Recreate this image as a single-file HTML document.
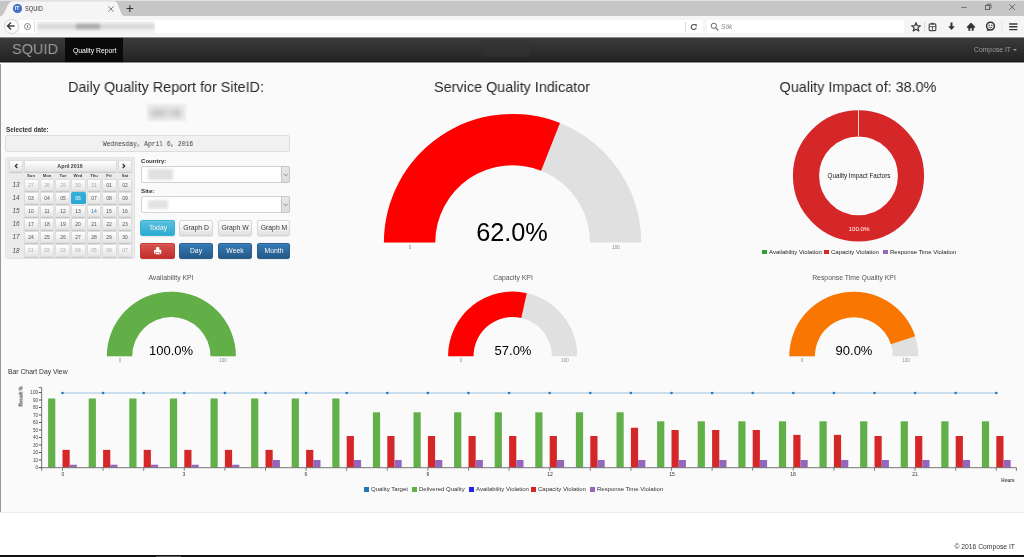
<!DOCTYPE html><html><head><meta charset="utf-8"><style>
html,body{margin:0;padding:0;width:1024px;height:557px;overflow:hidden;background:#fff}
.t{position:absolute;will-change:transform;white-space:nowrap;line-height:1;font-family:'Liberation Sans',sans-serif}
.b{position:absolute}
</style></head><body>
<div class="b" style="left:0px;top:0px;width:1024px;height:16px;background:#c6c6c6"></div>
<div class="b" style="left:0px;top:0px;width:1024px;height:1.2px;background:#e3e3e3"></div>
<svg class="b" style="left:0;top:0" width="140" height="17"><path d="M0,16 C6,16 6,1.2 13,1.2 L114,1.2 C120,1.2 119,16 125,16 Z" fill="#f5f5f5"/></svg>
<div class="b" style="left:0px;top:16px;width:1024px;height:21.5px;background:#f5f5f5"></div>
<div class="b" style="left:13px;top:4px;width:8.5px;height:8.5px;border-radius:50%;background:#3d6fc4"></div>
<div class="t" style="left:-282.75px;width:600px;text-align:center;top:6.37px;font-size:5px;color:#fff;font-weight:bold;font-family:'Liberation Sans';">IT</div>
<div class="t" style="left:24.70px;top:6.39px;font-size:7.1px;color:#333;font-weight:normal;font-family:'Liberation Sans';transform:scaleX(0.8);transform-origin:0 0">SQUID</div>
<svg class="b" style="left:106px;top:4px" width="30" height="10"><path d="M2.3,2.3 L7.7,7.7 M7.7,2.3 L2.3,7.7" stroke="#666" stroke-width="0.8"/><path d="M20.5,4.5 L27.2,4.5 M23.85,1.2 L23.85,7.9" stroke="#333" stroke-width="1.1"/></svg>
<div class="b" style="left:3.5px;top:18.5px;width:15px;height:15px;border-radius:50%;background:#fff;border:1px solid #cfcfcf;box-sizing:border-box"></div>
<svg class="b" style="left:6px;top:21px" width="10" height="10"><path d="M1.5,5 L8.5,5 M5,1.5 L1.5,5 L5,8.5" stroke="#444" stroke-width="1.5" fill="none"/></svg>
<div class="b" style="left:19px;top:19.8px;width:684px;height:13.6px;background:#fff"></div>
<div class="b" style="left:23.5px;top:22.5px;width:7.5px;height:7.5px;border-radius:50%;border:0.8px solid #888;box-sizing:border-box"></div>
<div class="b" style="left:27px;top:24.5px;width:0.8px;height:3.5px;background:#888"></div>
<div class="b" style="left:34px;top:21px;width:0.8px;height:11px;background:#e0e0e0"></div>
<div class="b" style="left:37px;top:20.5px;width:118px;height:12px;background:#f3f3f3;filter:blur(0.6px)"></div>
<div class="b" style="left:38px;top:24px;width:116px;height:5px;background:#d6d6d6;filter:blur(1.4px)"></div>
<div class="b" style="left:76px;top:23.8px;width:24px;height:5.5px;background:#aaa;filter:blur(1.4px)"></div>
<div class="b" style="left:685px;top:21.5px;width:0.8px;height:10px;background:#ddd"></div>
<svg class="b" style="left:689px;top:22px" width="10" height="10"><path d="M6.6,3.3 A2.5,2.5 0 1 0 7.2,5.6" stroke="#555" stroke-width="1.2" fill="none"/><path d="M5.3,2.2 L7.8,2.2 L7.8,4.7 Z" fill="#555"/></svg>
<div class="b" style="left:706.5px;top:19.8px;width:197.5px;height:13.6px;background:#fff"></div>
<svg class="b" style="left:710px;top:22px" width="10" height="10"><circle cx="3.8" cy="3.8" r="2.6" stroke="#666" stroke-width="1" fill="none"/><path d="M5.8,5.8 L8.3,8.3" stroke="#666" stroke-width="1.2"/></svg>
<div class="t" style="left:720.80px;top:23.81px;font-size:6.6px;color:#8a8a8a;font-weight:normal;font-family:'Liberation Sans';font-style:italic">Sök</div>
<svg class="b" style="left:905px;top:18px" width="119" height="19">
<path d="M11,4.6 L12.2,7.7 L15.4,7.9 L12.9,9.9 L13.8,13 L11,11.2 L8.2,13 L9.1,9.9 L6.6,7.9 L9.8,7.7 Z" stroke="#3a3a3a" stroke-width="1.2" stroke-linejoin="round" fill="none"/>
<rect x="19.3" y="4" width="0.8" height="10" fill="#d0d0d0"/>
<rect x="24.2" y="5.9" width="6.6" height="6.8" rx="1" stroke="#4a4a4a" stroke-width="1.2" fill="none"/><rect x="26.2" y="4.8" width="2.6" height="1.8" fill="#4a4a4a"/><path d="M24.2,8.6 H30.8 M27.5,8.6 V12.7" stroke="#4a4a4a" stroke-width="0.9"/>
<path d="M46.5,4.5 V9" stroke="#333" stroke-width="2"/><path d="M43.2,8.3 L49.8,8.3 L46.5,12 Z" fill="#333"/>
<path d="M62.4,9.2 L66,5.4 L69.6,9.2 Z" fill="#333" stroke="#333" stroke-width="1.2" stroke-linejoin="round"/><rect x="63.3" y="9" width="5.4" height="3.7" fill="#333"/><rect x="65.2" y="10.3" width="1.6" height="2.4" fill="#f5f5f5"/>
<circle cx="85.5" cy="8.1" r="3.9" stroke="#333" stroke-width="1.5" fill="none"/><path d="M82.6,11 L81.6,13.3 L84.6,11.9 Z" fill="#333"/><circle cx="84.2" cy="7.2" r="0.75" fill="#333"/><circle cx="86.8" cy="7.2" r="0.75" fill="#333"/><path d="M83.6,8.9 Q85.5,10.8 87.4,8.9" stroke="#333" stroke-width="0.9" fill="none"/>
<rect x="96.5" y="2.5" width="0.8" height="13" fill="#e0e0e0"/>
<path d="M104.2,6 H112.4 M104.2,8.8 H112.4 M104.2,11.6 H112.4" stroke="#3a3a3a" stroke-width="1.4"/>
</svg>
<svg class="b" style="left:955px;top:0" width="69" height="16">
<path d="M6.3,7.4 H11.5" stroke="#555" stroke-width="0.8"/>
<rect x="30.5" y="5.4" width="4.2" height="4.2" stroke="#555" stroke-width="0.8" fill="none"/><path d="M32,5.4 V4.2 H36 V8.2 H34.7" stroke="#555" stroke-width="0.8" fill="none"/>
<path d="M54.3,4.3 L60,10 M60,4.3 L54.3,10" stroke="#555" stroke-width="0.85"/>
</svg>
<div class="b" style="left:0px;top:36px;width:1024px;height:1px;background:#fafafa"></div>
<div class="b" style="left:0px;top:37px;width:1024px;height:26px;background:linear-gradient(to bottom,#8a8a8a 0,#8a8a8a 1px,#3b3b3b 1px,#232323 24px,#1a1a1a 24px,#1a1a1a 25px,#8a8a8a 25px)"></div>
<div class="b" style="left:65px;top:37px;width:58px;height:26px;background:linear-gradient(to bottom,#808080 0,#808080 1px,#0a0a0a 1px,#0a0a0a 25px,#808080 25px)"></div>
<div class="t" style="left:12.30px;top:41.45px;font-size:15.3px;color:#9d9d9d;font-weight:normal;font-family:'Liberation Sans';transform:scaleX(0.95);transform-origin:0 0">SQUID</div>
<div class="t" style="left:72.50px;top:48.44px;font-size:6.8px;color:#fff;font-weight:normal;font-family:'Liberation Sans';">Quality Report</div>
<div class="t" style="left:974.00px;top:46.54px;font-size:6.8px;color:#9d9d9d;font-weight:normal;font-family:'Liberation Sans';">Compose IT</div>
<div class="b" style="left:1013.2px;top:48.9px;border-left:2px solid transparent;border-right:2px solid transparent;border-top:2px solid #9d9d9d"></div>
<div class="b" style="left:0px;top:63px;width:1024px;height:449.5px;background:#fafafa"></div>
<div class="b" style="left:0px;top:63px;width:1024px;height:1px;background:#fff"></div>
<div class="b" style="left:0px;top:64px;width:1.2px;height:447.7px;background:#999"></div>
<div class="b" style="left:0px;top:512.2px;width:1024px;height:0.8px;background:#ececec"></div>
<div class="b" style="left:0px;top:513px;width:1024px;height:42.2px;background:#fff"></div>
<div class="b" style="left:0px;top:555.2px;width:1024px;height:1.8px;background:#111"></div>
<div class="b" style="left:156px;top:555.6px;width:25px;height:1.4px;background:#555"></div>
<div class="b" style="left:484px;top:40px;width:46px;height:17px;background:#333;filter:blur(1.2px);opacity:.6"></div>
<div class="t" style="left:415.20px;width:600px;text-align:right;top:543.78px;font-size:6.75px;color:#333;font-weight:normal;font-family:'Liberation Sans';">© 2016 Compose IT</div>
<div class="t" style="left:-134.00px;width:600px;text-align:center;top:79.00px;font-size:15px;color:#2a2a2a;font-weight:normal;font-family:'Liberation Sans';transform:scaleX(0.96)">Daily Quality Report for SiteID:</div>
<div class="b" style="left:146.5px;top:104px;width:39px;height:17px;background:#ebebeb;filter:blur(1px)"></div>
<div class="b" style="left:151px;top:108.5px;width:15px;height:8px;background:#c9c9c9;filter:blur(2px)"></div>
<div class="b" style="left:165px;top:109px;width:10px;height:7px;background:#d6d6d6;filter:blur(2px)"></div>
<div class="b" style="left:173px;top:108.5px;width:8px;height:8px;background:#c9c9c9;filter:blur(2px)"></div>
<div class="t" style="left:5.70px;top:126.57px;font-size:6.3px;color:#333;font-weight:bold;font-family:'Liberation Sans';">Selected date:</div>
<div class="b" style="left:5.3px;top:135.4px;width:284.7px;height:16.3px;background:#f1f1f1;border:0.6px solid #ddd;border-radius:2px;box-sizing:border-box"></div>
<div class="t" style="left:-152.40px;width:600px;text-align:center;top:140.77px;font-size:7px;color:#383838;font-weight:normal;font-family:'Liberation Mono';transform:scaleX(0.893)">Wednesday, April 6, 2016</div>
<div class="b" style="left:5.2px;top:156.5px;width:130.3px;height:102.5px;background:#ebebeb;border:0.6px solid #e3e3e3;border-radius:2px;box-sizing:border-box"></div>
<div class="b" style="left:9px;top:159.9px;width:14.4px;height:12.1px;background:linear-gradient(#fff,#e6e6e6);border-radius:1.5px;box-shadow:0 0.5px 1px rgba(0,0,0,.15);border:0.5px solid #ddd;box-sizing:border-box"></div>
<div class="b" style="left:24px;top:159.9px;width:92.9px;height:12.1px;background:linear-gradient(#fff,#e6e6e6);border-radius:1.5px;box-shadow:0 0.5px 1px rgba(0,0,0,.15);border:0.5px solid #ddd;box-sizing:border-box"></div>
<div class="b" style="left:118px;top:159.9px;width:14.4px;height:12.1px;background:linear-gradient(#fff,#e6e6e6);border-radius:1.5px;box-shadow:0 0.5px 1px rgba(0,0,0,.15);border:0.5px solid #ddd;box-sizing:border-box"></div>
<svg class="b" style="left:13px;top:162px" width="120" height="8"><path d="M4.3,2 L2.3,4 L4.3,6" stroke="#333" stroke-width="1.3" fill="none"/><path d="M109.7,2 L111.7,4 L109.7,6" stroke="#333" stroke-width="1.3" fill="none"/></svg>
<div class="t" style="left:-229.60px;width:600px;text-align:center;top:163.71px;font-size:5.3px;color:#444;font-weight:bold;font-family:'Liberation Sans';">April 2016</div>
<div class="t" style="left:-268.75px;width:600px;text-align:center;top:173.74px;font-size:4.2px;color:#444;font-weight:bold;font-family:'Liberation Sans';">Sun</div>
<div class="t" style="left:-253.05px;width:600px;text-align:center;top:173.74px;font-size:4.2px;color:#444;font-weight:bold;font-family:'Liberation Sans';">Mon</div>
<div class="t" style="left:-237.50px;width:600px;text-align:center;top:173.74px;font-size:4.2px;color:#444;font-weight:bold;font-family:'Liberation Sans';">Tue</div>
<div class="t" style="left:-221.70px;width:600px;text-align:center;top:173.74px;font-size:4.2px;color:#444;font-weight:bold;font-family:'Liberation Sans';">Wed</div>
<div class="t" style="left:-206.15px;width:600px;text-align:center;top:173.74px;font-size:4.2px;color:#444;font-weight:bold;font-family:'Liberation Sans';">Thu</div>
<div class="t" style="left:-190.65px;width:600px;text-align:center;top:173.74px;font-size:4.2px;color:#444;font-weight:bold;font-family:'Liberation Sans';">Fri</div>
<div class="t" style="left:-174.90px;width:600px;text-align:center;top:173.74px;font-size:4.2px;color:#444;font-weight:bold;font-family:'Liberation Sans';">Sat</div>
<div class="t" style="left:-283.70px;width:600px;text-align:center;top:182.08px;font-size:6.4px;color:#505050;font-weight:normal;font-family:'Liberation Sans';font-style:italic">13</div>
<div class="b" style="left:23.75px;top:178.9px;width:15px;height:12.2px;background:linear-gradient(#fff,#e6e6e6);border-radius:1.5px;box-shadow:0 0.5px 1px rgba(0,0,0,.15);border:0.5px solid #ddd;box-sizing:border-box"></div>
<div class="t" style="left:-268.75px;width:600px;text-align:center;top:182.87px;font-size:5px;color:#aaa;font-weight:normal;font-family:'Liberation Sans';">27</div>
<div class="b" style="left:39.9px;top:178.9px;width:14.1px;height:12.2px;background:linear-gradient(#fff,#e6e6e6);border-radius:1.5px;box-shadow:0 0.5px 1px rgba(0,0,0,.15);border:0.5px solid #ddd;box-sizing:border-box"></div>
<div class="t" style="left:-253.05px;width:600px;text-align:center;top:182.87px;font-size:5px;color:#aaa;font-weight:normal;font-family:'Liberation Sans';">28</div>
<div class="b" style="left:55.2px;top:178.9px;width:14.6px;height:12.2px;background:linear-gradient(#fff,#e6e6e6);border-radius:1.5px;box-shadow:0 0.5px 1px rgba(0,0,0,.15);border:0.5px solid #ddd;box-sizing:border-box"></div>
<div class="t" style="left:-237.50px;width:600px;text-align:center;top:182.87px;font-size:5px;color:#aaa;font-weight:normal;font-family:'Liberation Sans';">29</div>
<div class="b" style="left:70.6px;top:178.9px;width:15.4px;height:12.2px;background:linear-gradient(#fff,#e6e6e6);border-radius:1.5px;box-shadow:0 0.5px 1px rgba(0,0,0,.15);border:0.5px solid #ddd;box-sizing:border-box"></div>
<div class="t" style="left:-221.70px;width:600px;text-align:center;top:182.87px;font-size:5px;color:#aaa;font-weight:normal;font-family:'Liberation Sans';">30</div>
<div class="b" style="left:86.8px;top:178.9px;width:14.1px;height:12.2px;background:linear-gradient(#fff,#e6e6e6);border-radius:1.5px;box-shadow:0 0.5px 1px rgba(0,0,0,.15);border:0.5px solid #ddd;box-sizing:border-box"></div>
<div class="t" style="left:-206.15px;width:600px;text-align:center;top:182.87px;font-size:5px;color:#aaa;font-weight:normal;font-family:'Liberation Sans';">31</div>
<div class="b" style="left:102px;top:178.9px;width:14.7px;height:12.2px;background:linear-gradient(#fff,#e6e6e6);border-radius:1.5px;box-shadow:0 0.5px 1px rgba(0,0,0,.15);border:0.5px solid #ddd;box-sizing:border-box"></div>
<div class="t" style="left:-190.65px;width:600px;text-align:center;top:182.87px;font-size:5px;color:#555;font-weight:normal;font-family:'Liberation Sans';">01</div>
<div class="b" style="left:117.9px;top:178.9px;width:14.4px;height:12.2px;background:linear-gradient(#fff,#e6e6e6);border-radius:1.5px;box-shadow:0 0.5px 1px rgba(0,0,0,.15);border:0.5px solid #ddd;box-sizing:border-box"></div>
<div class="t" style="left:-174.90px;width:600px;text-align:center;top:182.87px;font-size:5px;color:#555;font-weight:normal;font-family:'Liberation Sans';">02</div>
<div class="t" style="left:-283.70px;width:600px;text-align:center;top:195.18px;font-size:6.4px;color:#505050;font-weight:normal;font-family:'Liberation Sans';font-style:italic">14</div>
<div class="b" style="left:23.75px;top:192.0px;width:15px;height:12.2px;background:linear-gradient(#fff,#e6e6e6);border-radius:1.5px;box-shadow:0 0.5px 1px rgba(0,0,0,.15);border:0.5px solid #ddd;box-sizing:border-box"></div>
<div class="t" style="left:-268.75px;width:600px;text-align:center;top:195.97px;font-size:5px;color:#555;font-weight:normal;font-family:'Liberation Sans';">03</div>
<div class="b" style="left:39.9px;top:192.0px;width:14.1px;height:12.2px;background:linear-gradient(#fff,#e6e6e6);border-radius:1.5px;box-shadow:0 0.5px 1px rgba(0,0,0,.15);border:0.5px solid #ddd;box-sizing:border-box"></div>
<div class="t" style="left:-253.05px;width:600px;text-align:center;top:195.97px;font-size:5px;color:#555;font-weight:normal;font-family:'Liberation Sans';">04</div>
<div class="b" style="left:55.2px;top:192.0px;width:14.6px;height:12.2px;background:linear-gradient(#fff,#e6e6e6);border-radius:1.5px;box-shadow:0 0.5px 1px rgba(0,0,0,.15);border:0.5px solid #ddd;box-sizing:border-box"></div>
<div class="t" style="left:-237.50px;width:600px;text-align:center;top:195.97px;font-size:5px;color:#555;font-weight:normal;font-family:'Liberation Sans';">05</div>
<div class="b" style="left:70.6px;top:192.0px;width:15.4px;height:12.2px;background:linear-gradient(#36b0d8,#2aa6d0);border-radius:1.5px"></div>
<div class="t" style="left:-221.70px;width:600px;text-align:center;top:195.97px;font-size:5px;color:#fff;font-weight:normal;font-family:'Liberation Sans';">06</div>
<div class="b" style="left:86.8px;top:192.0px;width:14.1px;height:12.2px;background:linear-gradient(#fff,#e6e6e6);border-radius:1.5px;box-shadow:0 0.5px 1px rgba(0,0,0,.15);border:0.5px solid #ddd;box-sizing:border-box"></div>
<div class="t" style="left:-206.15px;width:600px;text-align:center;top:195.97px;font-size:5px;color:#555;font-weight:normal;font-family:'Liberation Sans';">07</div>
<div class="b" style="left:102px;top:192.0px;width:14.7px;height:12.2px;background:linear-gradient(#fff,#e6e6e6);border-radius:1.5px;box-shadow:0 0.5px 1px rgba(0,0,0,.15);border:0.5px solid #ddd;box-sizing:border-box"></div>
<div class="t" style="left:-190.65px;width:600px;text-align:center;top:195.97px;font-size:5px;color:#555;font-weight:normal;font-family:'Liberation Sans';">08</div>
<div class="b" style="left:117.9px;top:192.0px;width:14.4px;height:12.2px;background:linear-gradient(#fff,#e6e6e6);border-radius:1.5px;box-shadow:0 0.5px 1px rgba(0,0,0,.15);border:0.5px solid #ddd;box-sizing:border-box"></div>
<div class="t" style="left:-174.90px;width:600px;text-align:center;top:195.97px;font-size:5px;color:#555;font-weight:normal;font-family:'Liberation Sans';">09</div>
<div class="t" style="left:-283.70px;width:600px;text-align:center;top:208.28px;font-size:6.4px;color:#505050;font-weight:normal;font-family:'Liberation Sans';font-style:italic">15</div>
<div class="b" style="left:23.75px;top:205.1px;width:15px;height:12.2px;background:linear-gradient(#fff,#e6e6e6);border-radius:1.5px;box-shadow:0 0.5px 1px rgba(0,0,0,.15);border:0.5px solid #ddd;box-sizing:border-box"></div>
<div class="t" style="left:-268.75px;width:600px;text-align:center;top:209.07px;font-size:5px;color:#555;font-weight:normal;font-family:'Liberation Sans';">10</div>
<div class="b" style="left:39.9px;top:205.1px;width:14.1px;height:12.2px;background:linear-gradient(#fff,#e6e6e6);border-radius:1.5px;box-shadow:0 0.5px 1px rgba(0,0,0,.15);border:0.5px solid #ddd;box-sizing:border-box"></div>
<div class="t" style="left:-253.05px;width:600px;text-align:center;top:209.07px;font-size:5px;color:#555;font-weight:normal;font-family:'Liberation Sans';">11</div>
<div class="b" style="left:55.2px;top:205.1px;width:14.6px;height:12.2px;background:linear-gradient(#fff,#e6e6e6);border-radius:1.5px;box-shadow:0 0.5px 1px rgba(0,0,0,.15);border:0.5px solid #ddd;box-sizing:border-box"></div>
<div class="t" style="left:-237.50px;width:600px;text-align:center;top:209.07px;font-size:5px;color:#555;font-weight:normal;font-family:'Liberation Sans';">12</div>
<div class="b" style="left:70.6px;top:205.1px;width:15.4px;height:12.2px;background:linear-gradient(#fff,#e6e6e6);border-radius:1.5px;box-shadow:0 0.5px 1px rgba(0,0,0,.15);border:0.5px solid #ddd;box-sizing:border-box"></div>
<div class="t" style="left:-221.70px;width:600px;text-align:center;top:209.07px;font-size:5px;color:#555;font-weight:normal;font-family:'Liberation Sans';">13</div>
<div class="b" style="left:86.8px;top:205.1px;width:14.1px;height:12.2px;background:linear-gradient(#fff,#e6e6e6);border-radius:1.5px;box-shadow:0 0.5px 1px rgba(0,0,0,.15);border:0.5px solid #ddd;box-sizing:border-box"></div>
<div class="t" style="left:-206.15px;width:600px;text-align:center;top:209.07px;font-size:5px;color:#337ab7;font-weight:normal;font-family:'Liberation Sans';">14</div>
<div class="b" style="left:102px;top:205.1px;width:14.7px;height:12.2px;background:linear-gradient(#fff,#e6e6e6);border-radius:1.5px;box-shadow:0 0.5px 1px rgba(0,0,0,.15);border:0.5px solid #ddd;box-sizing:border-box"></div>
<div class="t" style="left:-190.65px;width:600px;text-align:center;top:209.07px;font-size:5px;color:#555;font-weight:normal;font-family:'Liberation Sans';">15</div>
<div class="b" style="left:117.9px;top:205.1px;width:14.4px;height:12.2px;background:linear-gradient(#fff,#e6e6e6);border-radius:1.5px;box-shadow:0 0.5px 1px rgba(0,0,0,.15);border:0.5px solid #ddd;box-sizing:border-box"></div>
<div class="t" style="left:-174.90px;width:600px;text-align:center;top:209.07px;font-size:5px;color:#555;font-weight:normal;font-family:'Liberation Sans';">16</div>
<div class="t" style="left:-283.70px;width:600px;text-align:center;top:221.38px;font-size:6.4px;color:#505050;font-weight:normal;font-family:'Liberation Sans';font-style:italic">16</div>
<div class="b" style="left:23.75px;top:218.2px;width:15px;height:12.2px;background:linear-gradient(#fff,#e6e6e6);border-radius:1.5px;box-shadow:0 0.5px 1px rgba(0,0,0,.15);border:0.5px solid #ddd;box-sizing:border-box"></div>
<div class="t" style="left:-268.75px;width:600px;text-align:center;top:222.17px;font-size:5px;color:#555;font-weight:normal;font-family:'Liberation Sans';">17</div>
<div class="b" style="left:39.9px;top:218.2px;width:14.1px;height:12.2px;background:linear-gradient(#fff,#e6e6e6);border-radius:1.5px;box-shadow:0 0.5px 1px rgba(0,0,0,.15);border:0.5px solid #ddd;box-sizing:border-box"></div>
<div class="t" style="left:-253.05px;width:600px;text-align:center;top:222.17px;font-size:5px;color:#555;font-weight:normal;font-family:'Liberation Sans';">18</div>
<div class="b" style="left:55.2px;top:218.2px;width:14.6px;height:12.2px;background:linear-gradient(#fff,#e6e6e6);border-radius:1.5px;box-shadow:0 0.5px 1px rgba(0,0,0,.15);border:0.5px solid #ddd;box-sizing:border-box"></div>
<div class="t" style="left:-237.50px;width:600px;text-align:center;top:222.17px;font-size:5px;color:#555;font-weight:normal;font-family:'Liberation Sans';">19</div>
<div class="b" style="left:70.6px;top:218.2px;width:15.4px;height:12.2px;background:linear-gradient(#fff,#e6e6e6);border-radius:1.5px;box-shadow:0 0.5px 1px rgba(0,0,0,.15);border:0.5px solid #ddd;box-sizing:border-box"></div>
<div class="t" style="left:-221.70px;width:600px;text-align:center;top:222.17px;font-size:5px;color:#555;font-weight:normal;font-family:'Liberation Sans';">20</div>
<div class="b" style="left:86.8px;top:218.2px;width:14.1px;height:12.2px;background:linear-gradient(#fff,#e6e6e6);border-radius:1.5px;box-shadow:0 0.5px 1px rgba(0,0,0,.15);border:0.5px solid #ddd;box-sizing:border-box"></div>
<div class="t" style="left:-206.15px;width:600px;text-align:center;top:222.17px;font-size:5px;color:#555;font-weight:normal;font-family:'Liberation Sans';">21</div>
<div class="b" style="left:102px;top:218.2px;width:14.7px;height:12.2px;background:linear-gradient(#fff,#e6e6e6);border-radius:1.5px;box-shadow:0 0.5px 1px rgba(0,0,0,.15);border:0.5px solid #ddd;box-sizing:border-box"></div>
<div class="t" style="left:-190.65px;width:600px;text-align:center;top:222.17px;font-size:5px;color:#555;font-weight:normal;font-family:'Liberation Sans';">22</div>
<div class="b" style="left:117.9px;top:218.2px;width:14.4px;height:12.2px;background:linear-gradient(#fff,#e6e6e6);border-radius:1.5px;box-shadow:0 0.5px 1px rgba(0,0,0,.15);border:0.5px solid #ddd;box-sizing:border-box"></div>
<div class="t" style="left:-174.90px;width:600px;text-align:center;top:222.17px;font-size:5px;color:#555;font-weight:normal;font-family:'Liberation Sans';">23</div>
<div class="t" style="left:-283.70px;width:600px;text-align:center;top:234.48px;font-size:6.4px;color:#505050;font-weight:normal;font-family:'Liberation Sans';font-style:italic">17</div>
<div class="b" style="left:23.75px;top:231.3px;width:15px;height:12.2px;background:linear-gradient(#fff,#e6e6e6);border-radius:1.5px;box-shadow:0 0.5px 1px rgba(0,0,0,.15);border:0.5px solid #ddd;box-sizing:border-box"></div>
<div class="t" style="left:-268.75px;width:600px;text-align:center;top:235.27px;font-size:5px;color:#555;font-weight:normal;font-family:'Liberation Sans';">24</div>
<div class="b" style="left:39.9px;top:231.3px;width:14.1px;height:12.2px;background:linear-gradient(#fff,#e6e6e6);border-radius:1.5px;box-shadow:0 0.5px 1px rgba(0,0,0,.15);border:0.5px solid #ddd;box-sizing:border-box"></div>
<div class="t" style="left:-253.05px;width:600px;text-align:center;top:235.27px;font-size:5px;color:#555;font-weight:normal;font-family:'Liberation Sans';">25</div>
<div class="b" style="left:55.2px;top:231.3px;width:14.6px;height:12.2px;background:linear-gradient(#fff,#e6e6e6);border-radius:1.5px;box-shadow:0 0.5px 1px rgba(0,0,0,.15);border:0.5px solid #ddd;box-sizing:border-box"></div>
<div class="t" style="left:-237.50px;width:600px;text-align:center;top:235.27px;font-size:5px;color:#555;font-weight:normal;font-family:'Liberation Sans';">26</div>
<div class="b" style="left:70.6px;top:231.3px;width:15.4px;height:12.2px;background:linear-gradient(#fff,#e6e6e6);border-radius:1.5px;box-shadow:0 0.5px 1px rgba(0,0,0,.15);border:0.5px solid #ddd;box-sizing:border-box"></div>
<div class="t" style="left:-221.70px;width:600px;text-align:center;top:235.27px;font-size:5px;color:#555;font-weight:normal;font-family:'Liberation Sans';">27</div>
<div class="b" style="left:86.8px;top:231.3px;width:14.1px;height:12.2px;background:linear-gradient(#fff,#e6e6e6);border-radius:1.5px;box-shadow:0 0.5px 1px rgba(0,0,0,.15);border:0.5px solid #ddd;box-sizing:border-box"></div>
<div class="t" style="left:-206.15px;width:600px;text-align:center;top:235.27px;font-size:5px;color:#555;font-weight:normal;font-family:'Liberation Sans';">28</div>
<div class="b" style="left:102px;top:231.3px;width:14.7px;height:12.2px;background:linear-gradient(#fff,#e6e6e6);border-radius:1.5px;box-shadow:0 0.5px 1px rgba(0,0,0,.15);border:0.5px solid #ddd;box-sizing:border-box"></div>
<div class="t" style="left:-190.65px;width:600px;text-align:center;top:235.27px;font-size:5px;color:#555;font-weight:normal;font-family:'Liberation Sans';">29</div>
<div class="b" style="left:117.9px;top:231.3px;width:14.4px;height:12.2px;background:linear-gradient(#fff,#e6e6e6);border-radius:1.5px;box-shadow:0 0.5px 1px rgba(0,0,0,.15);border:0.5px solid #ddd;box-sizing:border-box"></div>
<div class="t" style="left:-174.90px;width:600px;text-align:center;top:235.27px;font-size:5px;color:#555;font-weight:normal;font-family:'Liberation Sans';">30</div>
<div class="t" style="left:-283.70px;width:600px;text-align:center;top:247.58px;font-size:6.4px;color:#505050;font-weight:normal;font-family:'Liberation Sans';font-style:italic">18</div>
<div class="b" style="left:23.75px;top:244.4px;width:15px;height:12.2px;background:linear-gradient(#fff,#e6e6e6);border-radius:1.5px;box-shadow:0 0.5px 1px rgba(0,0,0,.15);border:0.5px solid #ddd;box-sizing:border-box"></div>
<div class="t" style="left:-268.75px;width:600px;text-align:center;top:248.37px;font-size:5px;color:#aaa;font-weight:normal;font-family:'Liberation Sans';">01</div>
<div class="b" style="left:39.9px;top:244.4px;width:14.1px;height:12.2px;background:linear-gradient(#fff,#e6e6e6);border-radius:1.5px;box-shadow:0 0.5px 1px rgba(0,0,0,.15);border:0.5px solid #ddd;box-sizing:border-box"></div>
<div class="t" style="left:-253.05px;width:600px;text-align:center;top:248.37px;font-size:5px;color:#aaa;font-weight:normal;font-family:'Liberation Sans';">02</div>
<div class="b" style="left:55.2px;top:244.4px;width:14.6px;height:12.2px;background:linear-gradient(#fff,#e6e6e6);border-radius:1.5px;box-shadow:0 0.5px 1px rgba(0,0,0,.15);border:0.5px solid #ddd;box-sizing:border-box"></div>
<div class="t" style="left:-237.50px;width:600px;text-align:center;top:248.37px;font-size:5px;color:#aaa;font-weight:normal;font-family:'Liberation Sans';">03</div>
<div class="b" style="left:70.6px;top:244.4px;width:15.4px;height:12.2px;background:linear-gradient(#fff,#e6e6e6);border-radius:1.5px;box-shadow:0 0.5px 1px rgba(0,0,0,.15);border:0.5px solid #ddd;box-sizing:border-box"></div>
<div class="t" style="left:-221.70px;width:600px;text-align:center;top:248.37px;font-size:5px;color:#aaa;font-weight:normal;font-family:'Liberation Sans';">04</div>
<div class="b" style="left:86.8px;top:244.4px;width:14.1px;height:12.2px;background:linear-gradient(#fff,#e6e6e6);border-radius:1.5px;box-shadow:0 0.5px 1px rgba(0,0,0,.15);border:0.5px solid #ddd;box-sizing:border-box"></div>
<div class="t" style="left:-206.15px;width:600px;text-align:center;top:248.37px;font-size:5px;color:#aaa;font-weight:normal;font-family:'Liberation Sans';">05</div>
<div class="b" style="left:102px;top:244.4px;width:14.7px;height:12.2px;background:linear-gradient(#fff,#e6e6e6);border-radius:1.5px;box-shadow:0 0.5px 1px rgba(0,0,0,.15);border:0.5px solid #ddd;box-sizing:border-box"></div>
<div class="t" style="left:-190.65px;width:600px;text-align:center;top:248.37px;font-size:5px;color:#aaa;font-weight:normal;font-family:'Liberation Sans';">06</div>
<div class="b" style="left:117.9px;top:244.4px;width:14.4px;height:12.2px;background:linear-gradient(#fff,#e6e6e6);border-radius:1.5px;box-shadow:0 0.5px 1px rgba(0,0,0,.15);border:0.5px solid #ddd;box-sizing:border-box"></div>
<div class="t" style="left:-174.90px;width:600px;text-align:center;top:248.37px;font-size:5px;color:#aaa;font-weight:normal;font-family:'Liberation Sans';">07</div>
<div class="t" style="left:140.60px;top:158.44px;font-size:6.1px;color:#333;font-weight:bold;font-family:'Liberation Sans';">Country:</div>
<div class="b" style="left:140.5px;top:166.3px;width:149.1px;height:16.8px;background:#fff;border:0.6px solid #d3d3d3;border-radius:2px;box-sizing:border-box"></div>
<div class="b" style="left:281px;top:166.3px;width:8.6px;height:16.8px;background:linear-gradient(#e8e8e8,#dcdcdc);border:0.6px solid #c6c6c6;border-radius:0 2px 2px 0;box-sizing:border-box"></div>
<div class="b" style="left:147.5px;top:169px;width:25px;height:10.5px;background:#e0e0e0;filter:blur(1.5px)"></div>
<div class="t" style="left:140.80px;top:187.95px;font-size:6.2px;color:#333;font-weight:bold;font-family:'Liberation Sans';">Site:</div>
<div class="b" style="left:140.5px;top:196.3px;width:149.1px;height:16.8px;background:#fff;border:0.6px solid #d3d3d3;border-radius:2px;box-sizing:border-box"></div>
<div class="b" style="left:281px;top:196.3px;width:8.6px;height:16.8px;background:linear-gradient(#e8e8e8,#dcdcdc);border:0.6px solid #c6c6c6;border-radius:0 2px 2px 0;box-sizing:border-box"></div>
<div class="b" style="left:148px;top:199.5px;width:20px;height:9.5px;background:#e2e2e2;filter:blur(1.5px)"></div>
<svg class="b" style="left:282px;top:170px" width="8" height="40"><path d="M1.8,3.8 L3.8,5.8 L5.8,3.8" stroke="#666" stroke-width="0.7" fill="none"/><path d="M1.8,33.8 L3.8,35.8 L5.8,33.8" stroke="#666" stroke-width="0.7" fill="none"/></svg>
<div class="b" style="left:140.2px;top:219.9px;width:34.6px;height:16.6px;background:linear-gradient(#5bc0de,#2aabd2);border:0.6px solid #3bb2d6;border-radius:2px;box-sizing:border-box;box-shadow:inset 0 0.5px 0 rgba(255,255,255,.15),0 0.5px 1px rgba(0,0,0,.075)"></div>
<div class="t" style="left:-142.50px;width:600px;text-align:center;top:225.24px;font-size:6.8px;color:#fff;font-weight:normal;font-family:'Liberation Sans';text-shadow:0 -0.5px 0 rgba(0,0,0,.2)">Today</div>
<div class="b" style="left:179.2px;top:219.9px;width:33.9px;height:16.6px;background:linear-gradient(#fff,#e0e0e0);border:0.6px solid #d6d6d6;border-radius:2px;box-sizing:border-box;box-shadow:inset 0 0.5px 0 rgba(255,255,255,.15),0 0.5px 1px rgba(0,0,0,.075)"></div>
<div class="t" style="left:-103.85px;width:600px;text-align:center;top:225.24px;font-size:6.8px;color:#333;font-weight:normal;font-family:'Liberation Sans';text-shadow:0 0.5px 0 #fff">Graph D</div>
<div class="b" style="left:218.1px;top:219.9px;width:34px;height:16.6px;background:linear-gradient(#fff,#e0e0e0);border:0.6px solid #d6d6d6;border-radius:2px;box-sizing:border-box;box-shadow:inset 0 0.5px 0 rgba(255,255,255,.15),0 0.5px 1px rgba(0,0,0,.075)"></div>
<div class="t" style="left:-64.90px;width:600px;text-align:center;top:225.24px;font-size:6.8px;color:#333;font-weight:normal;font-family:'Liberation Sans';text-shadow:0 0.5px 0 #fff">Graph W</div>
<div class="b" style="left:256.6px;top:219.9px;width:33.9px;height:16.6px;background:linear-gradient(#fff,#e0e0e0);border:0.6px solid #d6d6d6;border-radius:2px;box-sizing:border-box;box-shadow:inset 0 0.5px 0 rgba(255,255,255,.15),0 0.5px 1px rgba(0,0,0,.075)"></div>
<div class="t" style="left:-26.45px;width:600px;text-align:center;top:225.24px;font-size:6.8px;color:#333;font-weight:normal;font-family:'Liberation Sans';text-shadow:0 0.5px 0 #fff">Graph M</div>
<div class="b" style="left:140.2px;top:243px;width:34.6px;height:16.4px;background:linear-gradient(#d9534f,#c12e2a);border:0.6px solid #c63a36;border-radius:2px;box-sizing:border-box;box-shadow:inset 0 0.5px 0 rgba(255,255,255,.15),0 0.5px 1px rgba(0,0,0,.075)"></div>
<div class="b" style="left:179.2px;top:243px;width:33.9px;height:16.4px;background:linear-gradient(#337ab7,#265a88);border:0.6px solid #2a5f90;border-radius:2px;box-sizing:border-box;box-shadow:inset 0 0.5px 0 rgba(255,255,255,.15),0 0.5px 1px rgba(0,0,0,.075)"></div>
<div class="t" style="left:-103.85px;width:600px;text-align:center;top:248.34px;font-size:6.8px;color:#fff;font-weight:normal;font-family:'Liberation Sans';text-shadow:0 -0.5px 0 rgba(0,0,0,.2)">Day</div>
<div class="b" style="left:218.1px;top:243px;width:34px;height:16.4px;background:linear-gradient(#337ab7,#265a88);border:0.6px solid #2a5f90;border-radius:2px;box-sizing:border-box;box-shadow:inset 0 0.5px 0 rgba(255,255,255,.15),0 0.5px 1px rgba(0,0,0,.075)"></div>
<div class="t" style="left:-64.90px;width:600px;text-align:center;top:248.34px;font-size:6.8px;color:#fff;font-weight:normal;font-family:'Liberation Sans';text-shadow:0 -0.5px 0 rgba(0,0,0,.2)">Week</div>
<div class="b" style="left:256.6px;top:243px;width:33.9px;height:16.4px;background:linear-gradient(#337ab7,#265a88);border:0.6px solid #2a5f90;border-radius:2px;box-sizing:border-box;box-shadow:inset 0 0.5px 0 rgba(255,255,255,.15),0 0.5px 1px rgba(0,0,0,.075)"></div>
<div class="t" style="left:-26.45px;width:600px;text-align:center;top:248.34px;font-size:6.8px;color:#fff;font-weight:normal;font-family:'Liberation Sans';text-shadow:0 -0.5px 0 rgba(0,0,0,.2)">Month</div>
<svg class="b" style="left:153px;top:246.2px" width="10" height="10"><rect x="3.1" y="1.1" width="3.2" height="3" fill="#fff"/><rect x="1" y="3.8" width="7.3" height="4" rx="0.7" fill="#fff"/><rect x="2.7" y="6.4" width="4" height="2.2" fill="#fff" stroke="#cc3a36" stroke-width="0.5"/></svg>
<svg class="b" style="left:0;top:0" width="1024" height="557"><path d="M383.90,242.6 A128.7,128.7 0 0 1 641.30,242.6 L590.00,242.6 A77.4,77.4 0 0 0 435.20,242.6 Z" fill="#e0e0e0"/><path d="M383.90,242.6 A128.7,128.7 0 0 1 559.98,122.94 L541.09,170.64 A77.4,77.4 0 0 0 435.20,242.6 Z" fill="#ff0000"/></svg>
<div class="t" style="left:211.90px;width:600px;text-align:center;top:219.78px;font-size:25.3px;color:#010101;font-weight:normal;font-family:'Liberation Sans';">62.0%</div>
<div class="t" style="left:109.55px;width:600px;text-align:center;top:245.71px;font-size:4.6px;color:#8a8a8a;font-weight:normal;font-family:'Liberation Sans';">0</div>
<div class="t" style="left:315.65px;width:600px;text-align:center;top:245.71px;font-size:4.6px;color:#8a8a8a;font-weight:normal;font-family:'Liberation Sans';">100</div>
<div class="t" style="left:211.50px;width:600px;text-align:center;top:78.90px;font-size:15px;color:#2a2a2a;font-weight:normal;font-family:'Liberation Sans';transform:scaleX(0.96)">Service Quality Indicator</div>
<svg class="b" style="left:0;top:0" width="1024" height="557"><path d="M106.85,356.2 A64.5,64.5 0 0 1 235.85,356.2 L210.55,356.2 A39.2,39.2 0 0 0 132.15,356.2 Z" fill="#e0e0e0"/><path d="M106.85,356.2 A64.5,64.5 0 0 1 235.85,356.20 L210.55,356.20 A39.2,39.2 0 0 0 132.15,356.2 Z" fill="#62ae47"/></svg>
<div class="t" style="left:-128.65px;width:600px;text-align:center;top:344.09px;font-size:13px;color:#010101;font-weight:normal;font-family:'Liberation Sans';">100.0%</div>
<div class="t" style="left:-180.50px;width:600px;text-align:center;top:359.39px;font-size:4.5px;color:#8a8a8a;font-weight:normal;font-family:'Liberation Sans';">0</div>
<div class="t" style="left:-76.80px;width:600px;text-align:center;top:359.39px;font-size:4.5px;color:#8a8a8a;font-weight:normal;font-family:'Liberation Sans';">100</div>
<div class="t" style="left:-128.65px;width:600px;text-align:center;top:274.80px;font-size:6.85px;color:#555;font-weight:normal;font-family:'Liberation Sans';">Availability KPI</div>
<svg class="b" style="left:0;top:0" width="1024" height="557"><path d="M448.10,356.2 A64.6,64.6 0 0 1 577.30,356.2 L551.90,356.2 A39.2,39.2 0 0 0 473.50,356.2 Z" fill="#e0e0e0"/><path d="M448.10,356.2 A64.6,64.6 0 0 1 526.79,293.16 L521.25,317.94 A39.2,39.2 0 0 0 473.50,356.2 Z" fill="#ff0000"/></svg>
<div class="t" style="left:212.50px;width:600px;text-align:center;top:344.09px;font-size:13px;color:#010101;font-weight:normal;font-family:'Liberation Sans';">57.0%</div>
<div class="t" style="left:160.80px;width:600px;text-align:center;top:359.39px;font-size:4.5px;color:#8a8a8a;font-weight:normal;font-family:'Liberation Sans';">0</div>
<div class="t" style="left:264.60px;width:600px;text-align:center;top:359.39px;font-size:4.5px;color:#8a8a8a;font-weight:normal;font-family:'Liberation Sans';">100</div>
<div class="t" style="left:212.70px;width:600px;text-align:center;top:274.80px;font-size:6.85px;color:#555;font-weight:normal;font-family:'Liberation Sans';">Capacity KPI</div>
<svg class="b" style="left:0;top:0" width="1024" height="557"><path d="M789.30,356.2 A64.5,64.5 0 0 1 918.30,356.2 L892.80,356.2 A39,39 0 0 0 814.80,356.2 Z" fill="#e0e0e0"/><path d="M789.30,356.2 A64.5,64.5 0 0 1 915.14,336.27 L890.89,344.15 A39,39 0 0 0 814.80,356.2 Z" fill="#f97600"/></svg>
<div class="t" style="left:553.70px;width:600px;text-align:center;top:344.09px;font-size:13px;color:#010101;font-weight:normal;font-family:'Liberation Sans';">90.0%</div>
<div class="t" style="left:502.05px;width:600px;text-align:center;top:359.39px;font-size:4.5px;color:#8a8a8a;font-weight:normal;font-family:'Liberation Sans';">0</div>
<div class="t" style="left:605.55px;width:600px;text-align:center;top:359.39px;font-size:4.5px;color:#8a8a8a;font-weight:normal;font-family:'Liberation Sans';">100</div>
<div class="t" style="left:553.80px;width:600px;text-align:center;top:274.80px;font-size:6.85px;color:#555;font-weight:normal;font-family:'Liberation Sans';">Response Time Quality KPI</div>
<svg class="b" style="left:0;top:0" width="1024" height="557"><circle cx="858.5" cy="175.8" r="52.5" stroke="#d62728" stroke-width="26.2" fill="none"/><path d="M858.5,110 V136" stroke="#fff" stroke-width="0.8"/></svg>
<div class="t" style="left:558.00px;width:600px;text-align:center;top:78.90px;font-size:15px;color:#2a2a2a;font-weight:normal;font-family:'Liberation Sans';transform:scaleX(0.96)">Quality Impact of: 38.0%</div>
<div class="t" style="left:558.70px;width:600px;text-align:center;top:173.47px;font-size:6.3px;color:#222;font-weight:normal;font-family:'Liberation Sans';">Quality Impact Factors</div>
<div class="t" style="left:558.70px;width:600px;text-align:center;top:225.75px;font-size:6.2px;color:#fff;font-weight:normal;font-family:'Liberation Sans';">100.0%</div>
<div class="b" style="left:762.2px;top:249.8px;width:4.7px;height:4.7px;background:#2ca02c"></div>
<div class="t" style="left:768.70px;top:249.22px;font-size:6px;color:#222;font-weight:normal;font-family:'Liberation Sans';">Availability Violation</div>
<div class="b" style="left:824.3px;top:249.8px;width:4.7px;height:4.7px;background:#d62728"></div>
<div class="t" style="left:830.80px;top:249.22px;font-size:6px;color:#222;font-weight:normal;font-family:'Liberation Sans';">Capacity Violation</div>
<div class="b" style="left:883.2px;top:249.8px;width:4.7px;height:4.7px;background:#9467bd"></div>
<div class="t" style="left:889.70px;top:249.22px;font-size:6px;color:#222;font-weight:normal;font-family:'Liberation Sans';">Response Time Violation</div>
<div class="t" style="left:7.60px;top:368.54px;font-size:6.8px;color:#333;font-weight:normal;font-family:'Liberation Sans';">Bar Chart Day View</div>
<svg class="b" style="left:0;top:0" width="1024" height="557"><rect x="48.10" y="398.50" width="7.2" height="69.00" fill="#62b049"/><rect x="62.50" y="449.88" width="7.2" height="17.62" fill="#d62728"/><rect x="69.70" y="464.73" width="7.2" height="2.78" fill="#9467bd"/><rect x="88.70" y="398.50" width="7.2" height="69.00" fill="#62b049"/><rect x="103.10" y="449.88" width="7.2" height="17.62" fill="#d62728"/><rect x="110.30" y="464.73" width="7.2" height="2.78" fill="#9467bd"/><rect x="129.30" y="398.50" width="7.2" height="69.00" fill="#62b049"/><rect x="143.70" y="449.88" width="7.2" height="17.62" fill="#d62728"/><rect x="150.90" y="464.73" width="7.2" height="2.78" fill="#9467bd"/><rect x="169.90" y="398.50" width="7.2" height="69.00" fill="#62b049"/><rect x="184.30" y="449.88" width="7.2" height="17.62" fill="#d62728"/><rect x="191.50" y="464.73" width="7.2" height="2.78" fill="#9467bd"/><rect x="210.50" y="398.50" width="7.2" height="69.00" fill="#62b049"/><rect x="224.90" y="449.88" width="7.2" height="17.62" fill="#d62728"/><rect x="232.10" y="464.73" width="7.2" height="2.78" fill="#9467bd"/><rect x="251.10" y="398.50" width="7.2" height="69.00" fill="#62b049"/><rect x="265.50" y="449.88" width="7.2" height="17.62" fill="#d62728"/><rect x="272.70" y="460.00" width="7.2" height="7.50" fill="#9467bd"/><rect x="291.70" y="398.50" width="7.2" height="69.00" fill="#62b049"/><rect x="306.10" y="449.88" width="7.2" height="17.62" fill="#d62728"/><rect x="313.30" y="460.00" width="7.2" height="7.50" fill="#9467bd"/><rect x="332.30" y="398.50" width="7.2" height="69.00" fill="#62b049"/><rect x="346.70" y="436.00" width="7.2" height="31.50" fill="#d62728"/><rect x="353.90" y="460.00" width="7.2" height="7.50" fill="#9467bd"/><rect x="372.90" y="412.30" width="7.2" height="55.20" fill="#62b049"/><rect x="387.30" y="436.00" width="7.2" height="31.50" fill="#d62728"/><rect x="394.50" y="460.00" width="7.2" height="7.50" fill="#9467bd"/><rect x="413.50" y="412.30" width="7.2" height="55.20" fill="#62b049"/><rect x="427.90" y="436.00" width="7.2" height="31.50" fill="#d62728"/><rect x="435.10" y="460.00" width="7.2" height="7.50" fill="#9467bd"/><rect x="454.10" y="412.30" width="7.2" height="55.20" fill="#62b049"/><rect x="468.50" y="436.00" width="7.2" height="31.50" fill="#d62728"/><rect x="475.70" y="460.00" width="7.2" height="7.50" fill="#9467bd"/><rect x="494.70" y="412.30" width="7.2" height="55.20" fill="#62b049"/><rect x="509.10" y="436.00" width="7.2" height="31.50" fill="#d62728"/><rect x="516.30" y="460.00" width="7.2" height="7.50" fill="#9467bd"/><rect x="535.30" y="412.30" width="7.2" height="55.20" fill="#62b049"/><rect x="549.70" y="436.00" width="7.2" height="31.50" fill="#d62728"/><rect x="556.90" y="460.00" width="7.2" height="7.50" fill="#9467bd"/><rect x="575.90" y="412.30" width="7.2" height="55.20" fill="#62b049"/><rect x="590.30" y="436.00" width="7.2" height="31.50" fill="#d62728"/><rect x="597.50" y="460.00" width="7.2" height="7.50" fill="#9467bd"/><rect x="616.50" y="412.30" width="7.2" height="55.20" fill="#62b049"/><rect x="630.90" y="427.75" width="7.2" height="39.75" fill="#d62728"/><rect x="638.10" y="460.00" width="7.2" height="7.50" fill="#9467bd"/><rect x="657.10" y="421.30" width="7.2" height="46.20" fill="#62b049"/><rect x="671.50" y="430.00" width="7.2" height="37.50" fill="#d62728"/><rect x="678.70" y="460.00" width="7.2" height="7.50" fill="#9467bd"/><rect x="697.70" y="421.30" width="7.2" height="46.20" fill="#62b049"/><rect x="712.10" y="430.00" width="7.2" height="37.50" fill="#d62728"/><rect x="719.30" y="460.00" width="7.2" height="7.50" fill="#9467bd"/><rect x="738.30" y="421.30" width="7.2" height="46.20" fill="#62b049"/><rect x="752.70" y="430.00" width="7.2" height="37.50" fill="#d62728"/><rect x="759.90" y="460.00" width="7.2" height="7.50" fill="#9467bd"/><rect x="778.90" y="421.30" width="7.2" height="46.20" fill="#62b049"/><rect x="793.30" y="434.88" width="7.2" height="32.62" fill="#d62728"/><rect x="800.50" y="460.00" width="7.2" height="7.50" fill="#9467bd"/><rect x="819.50" y="421.30" width="7.2" height="46.20" fill="#62b049"/><rect x="833.90" y="434.88" width="7.2" height="32.62" fill="#d62728"/><rect x="841.10" y="460.00" width="7.2" height="7.50" fill="#9467bd"/><rect x="860.10" y="421.30" width="7.2" height="46.20" fill="#62b049"/><rect x="874.50" y="436.00" width="7.2" height="31.50" fill="#d62728"/><rect x="881.70" y="460.00" width="7.2" height="7.50" fill="#9467bd"/><rect x="900.70" y="421.30" width="7.2" height="46.20" fill="#62b049"/><rect x="915.10" y="436.00" width="7.2" height="31.50" fill="#d62728"/><rect x="922.30" y="460.00" width="7.2" height="7.50" fill="#9467bd"/><rect x="941.30" y="421.30" width="7.2" height="46.20" fill="#62b049"/><rect x="955.70" y="436.00" width="7.2" height="31.50" fill="#d62728"/><rect x="962.90" y="460.00" width="7.2" height="7.50" fill="#9467bd"/><rect x="981.90" y="421.30" width="7.2" height="46.20" fill="#62b049"/><rect x="996.30" y="436.00" width="7.2" height="31.50" fill="#d62728"/><rect x="1003.50" y="460.00" width="7.2" height="7.50" fill="#9467bd"/><path d="M41.65,470.8 V467.7 H1016.4 V470.8" stroke="#666" stroke-width="0.9" fill="none"/><path d="M38.8,387.6 H41.65 V467.7 H38.8" stroke="#666" stroke-width="0.9" fill="none"/><path d="M38.8,467.50 H41.65" stroke="#555" stroke-width="1"/><path d="M38.8,460.00 H41.65" stroke="#555" stroke-width="1"/><path d="M38.8,452.50 H41.65" stroke="#555" stroke-width="1"/><path d="M38.8,445.00 H41.65" stroke="#555" stroke-width="1"/><path d="M38.8,437.50 H41.65" stroke="#555" stroke-width="1"/><path d="M38.8,430.00 H41.65" stroke="#555" stroke-width="1"/><path d="M38.8,422.50 H41.65" stroke="#555" stroke-width="1"/><path d="M38.8,415.00 H41.65" stroke="#555" stroke-width="1"/><path d="M38.8,407.50 H41.65" stroke="#555" stroke-width="1"/><path d="M38.8,400.00 H41.65" stroke="#555" stroke-width="1"/><path d="M38.8,392.50 H41.65" stroke="#555" stroke-width="1"/><path d="M62.50,467.5 V470.8" stroke="#666" stroke-width="0.8"/><path d="M103.10,467.5 V470.8" stroke="#666" stroke-width="0.8"/><path d="M143.70,467.5 V470.8" stroke="#666" stroke-width="0.8"/><path d="M184.30,467.5 V470.8" stroke="#666" stroke-width="0.8"/><path d="M224.90,467.5 V470.8" stroke="#666" stroke-width="0.8"/><path d="M265.50,467.5 V470.8" stroke="#666" stroke-width="0.8"/><path d="M306.10,467.5 V470.8" stroke="#666" stroke-width="0.8"/><path d="M346.70,467.5 V470.8" stroke="#666" stroke-width="0.8"/><path d="M387.30,467.5 V470.8" stroke="#666" stroke-width="0.8"/><path d="M427.90,467.5 V470.8" stroke="#666" stroke-width="0.8"/><path d="M468.50,467.5 V470.8" stroke="#666" stroke-width="0.8"/><path d="M509.10,467.5 V470.8" stroke="#666" stroke-width="0.8"/><path d="M549.70,467.5 V470.8" stroke="#666" stroke-width="0.8"/><path d="M590.30,467.5 V470.8" stroke="#666" stroke-width="0.8"/><path d="M630.90,467.5 V470.8" stroke="#666" stroke-width="0.8"/><path d="M671.50,467.5 V470.8" stroke="#666" stroke-width="0.8"/><path d="M712.10,467.5 V470.8" stroke="#666" stroke-width="0.8"/><path d="M752.70,467.5 V470.8" stroke="#666" stroke-width="0.8"/><path d="M793.30,467.5 V470.8" stroke="#666" stroke-width="0.8"/><path d="M833.90,467.5 V470.8" stroke="#666" stroke-width="0.8"/><path d="M874.50,467.5 V470.8" stroke="#666" stroke-width="0.8"/><path d="M915.10,467.5 V470.8" stroke="#666" stroke-width="0.8"/><path d="M955.70,467.5 V470.8" stroke="#666" stroke-width="0.8"/><path d="M996.30,467.5 V470.8" stroke="#666" stroke-width="0.8"/><path d="M62.5,393 H996.30" stroke="#b9d4ea" stroke-width="1.4"/><circle cx="62.50" cy="393" r="1.35" fill="#2b7bbb"/><circle cx="103.10" cy="393" r="1.35" fill="#2b7bbb"/><circle cx="143.70" cy="393" r="1.35" fill="#2b7bbb"/><circle cx="184.30" cy="393" r="1.35" fill="#2b7bbb"/><circle cx="224.90" cy="393" r="1.35" fill="#2b7bbb"/><circle cx="265.50" cy="393" r="1.35" fill="#2b7bbb"/><circle cx="306.10" cy="393" r="1.35" fill="#2b7bbb"/><circle cx="346.70" cy="393" r="1.35" fill="#2b7bbb"/><circle cx="387.30" cy="393" r="1.35" fill="#2b7bbb"/><circle cx="427.90" cy="393" r="1.35" fill="#2b7bbb"/><circle cx="468.50" cy="393" r="1.35" fill="#2b7bbb"/><circle cx="509.10" cy="393" r="1.35" fill="#2b7bbb"/><circle cx="549.70" cy="393" r="1.35" fill="#2b7bbb"/><circle cx="590.30" cy="393" r="1.35" fill="#2b7bbb"/><circle cx="630.90" cy="393" r="1.35" fill="#2b7bbb"/><circle cx="671.50" cy="393" r="1.35" fill="#2b7bbb"/><circle cx="712.10" cy="393" r="1.35" fill="#2b7bbb"/><circle cx="752.70" cy="393" r="1.35" fill="#2b7bbb"/><circle cx="793.30" cy="393" r="1.35" fill="#2b7bbb"/><circle cx="833.90" cy="393" r="1.35" fill="#2b7bbb"/><circle cx="874.50" cy="393" r="1.35" fill="#2b7bbb"/><circle cx="915.10" cy="393" r="1.35" fill="#2b7bbb"/><circle cx="955.70" cy="393" r="1.35" fill="#2b7bbb"/><circle cx="996.30" cy="393" r="1.35" fill="#2b7bbb"/></svg>
<div class="t" style="left:-562.10px;width:600px;text-align:right;top:466.11px;font-size:4.6px;color:#444;font-weight:normal;font-family:'Liberation Sans';">0</div>
<div class="t" style="left:-562.10px;width:600px;text-align:right;top:458.61px;font-size:4.6px;color:#444;font-weight:normal;font-family:'Liberation Sans';">10</div>
<div class="t" style="left:-562.10px;width:600px;text-align:right;top:451.11px;font-size:4.6px;color:#444;font-weight:normal;font-family:'Liberation Sans';">20</div>
<div class="t" style="left:-562.10px;width:600px;text-align:right;top:443.61px;font-size:4.6px;color:#444;font-weight:normal;font-family:'Liberation Sans';">30</div>
<div class="t" style="left:-562.10px;width:600px;text-align:right;top:436.11px;font-size:4.6px;color:#444;font-weight:normal;font-family:'Liberation Sans';">40</div>
<div class="t" style="left:-562.10px;width:600px;text-align:right;top:428.61px;font-size:4.6px;color:#444;font-weight:normal;font-family:'Liberation Sans';">50</div>
<div class="t" style="left:-562.10px;width:600px;text-align:right;top:421.11px;font-size:4.6px;color:#444;font-weight:normal;font-family:'Liberation Sans';">60</div>
<div class="t" style="left:-562.10px;width:600px;text-align:right;top:413.61px;font-size:4.6px;color:#444;font-weight:normal;font-family:'Liberation Sans';">70</div>
<div class="t" style="left:-562.10px;width:600px;text-align:right;top:406.11px;font-size:4.6px;color:#444;font-weight:normal;font-family:'Liberation Sans';">80</div>
<div class="t" style="left:-562.10px;width:600px;text-align:right;top:398.61px;font-size:4.6px;color:#444;font-weight:normal;font-family:'Liberation Sans';">90</div>
<div class="t" style="left:-562.10px;width:600px;text-align:right;top:391.11px;font-size:4.6px;color:#444;font-weight:normal;font-family:'Liberation Sans';">100</div>
<div class="t" style="left:-237.50px;width:600px;text-align:center;top:471.57px;font-size:5px;color:#333;font-weight:normal;font-family:'Liberation Sans';">0</div>
<div class="t" style="left:-115.70px;width:600px;text-align:center;top:471.57px;font-size:5px;color:#333;font-weight:normal;font-family:'Liberation Sans';">3</div>
<div class="t" style="left:6.10px;width:600px;text-align:center;top:471.57px;font-size:5px;color:#333;font-weight:normal;font-family:'Liberation Sans';">6</div>
<div class="t" style="left:127.90px;width:600px;text-align:center;top:471.57px;font-size:5px;color:#333;font-weight:normal;font-family:'Liberation Sans';">9</div>
<div class="t" style="left:249.70px;width:600px;text-align:center;top:471.57px;font-size:5px;color:#333;font-weight:normal;font-family:'Liberation Sans';">12</div>
<div class="t" style="left:371.50px;width:600px;text-align:center;top:471.57px;font-size:5px;color:#333;font-weight:normal;font-family:'Liberation Sans';">15</div>
<div class="t" style="left:493.30px;width:600px;text-align:center;top:471.57px;font-size:5px;color:#333;font-weight:normal;font-family:'Liberation Sans';">18</div>
<div class="t" style="left:615.10px;width:600px;text-align:center;top:471.57px;font-size:5px;color:#333;font-weight:normal;font-family:'Liberation Sans';">21</div>
<div class="t" style="left:707.60px;width:600px;text-align:center;top:478.71px;font-size:4.6px;color:#444;font-weight:bold;font-family:'Liberation Sans';">Hours</div>
<div class="t" style="left:9.5px;top:394px;font-size:4.8px;font-weight:bold;color:#333;transform:rotate(-90deg);transform-origin:center;width:24px;text-align:center">Result %</div>
<div class="b" style="left:363.6px;top:486.6px;width:5px;height:5px;background:#1f77b4"></div>
<div class="t" style="left:370.60px;top:486.32px;font-size:6px;color:#333;font-weight:normal;font-family:'Liberation Sans';">Quality Target</div>
<div class="b" style="left:412.3px;top:486.6px;width:5px;height:5px;background:#62b049"></div>
<div class="t" style="left:419.30px;top:486.32px;font-size:6px;color:#333;font-weight:normal;font-family:'Liberation Sans';">Delivered Quality</div>
<div class="b" style="left:468.9px;top:486.6px;width:5px;height:5px;background:#2222ee"></div>
<div class="t" style="left:475.90px;top:486.32px;font-size:6px;color:#333;font-weight:normal;font-family:'Liberation Sans';">Availability Violation</div>
<div class="b" style="left:531px;top:486.6px;width:5px;height:5px;background:#d62728"></div>
<div class="t" style="left:538.00px;top:486.32px;font-size:6px;color:#333;font-weight:normal;font-family:'Liberation Sans';">Capacity Violation</div>
<div class="b" style="left:589.6px;top:486.6px;width:5px;height:5px;background:#9467bd"></div>
<div class="t" style="left:596.60px;top:486.32px;font-size:6px;color:#333;font-weight:normal;font-family:'Liberation Sans';">Response Time Violation</div>
</body></html>
